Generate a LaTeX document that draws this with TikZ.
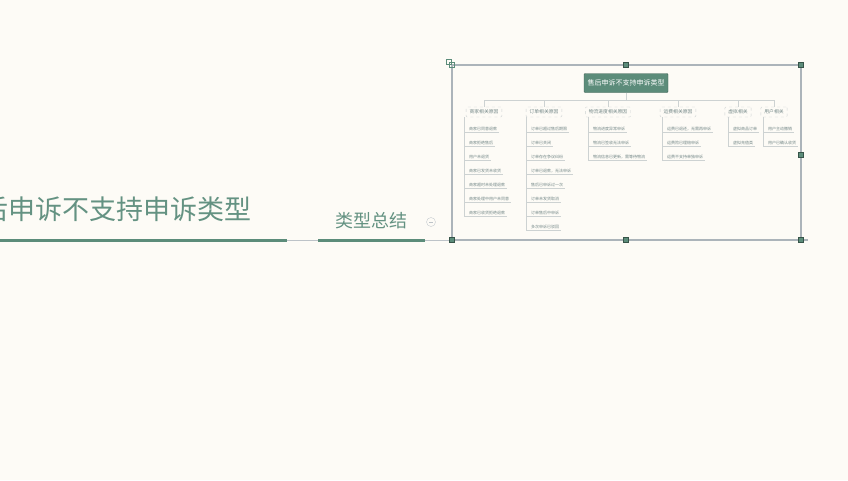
\documentclass[tikz,border=0pt]{standalone}
\usepackage{fontspec}
\setmainfont{Noto Sans CJK SC}
\newfontfamily\cjk{Noto Sans CJK SC}
\definecolor{bg}{RGB}{253,251,246}
\definecolor{tgreen}{RGB}{92,140,122}
\definecolor{ttitle}{RGB}{100,146,130}
\definecolor{fgray}{RGB}{172,180,186}
\definecolor{lgray}{RGB}{205,210,210}
\definecolor{ctext}{RGB}{115,135,135}
\tikzset{
  rootbox/.style={fill=tgreen,draw=tgreen!70!black,text=white,font=\cjk\fontsize{7}{8}\selectfont,minimum width=84pt,minimum height=19pt,inner sep=0pt,rounded corners=1pt},
  branchbox/.style={draw=lgray,dashed,text=ctext,font=\cjk\fontsize{4.8}{5}\selectfont,minimum height=10pt,inner xsep=3.5pt,inner ysep=2pt,rounded corners=1pt},
  childtxt/.style={anchor=south west,text=ctext,font=\cjk\fontsize{4}{4.5}\selectfont,inner sep=0.8pt},
  conn/.style={draw=lgray,line width=0.7pt},
  handle/.style={fill=tgreen,draw=tgreen!60!black,minimum size=5pt,inner sep=0pt},
}
\begin{document}
\begin{tikzpicture}[x=1pt,y=-1pt]
\useasboundingbox (0,0) rectangle (848,480);
\fill[bg] (0,0) rectangle (848,480);
% left title
\node[anchor=base east,text=ttitle,font=\cjk\fontsize{27}{30}\selectfont,inner sep=0pt] (title) at (252,219) {售后申诉不支持申诉类型};
\node[anchor=base,text=ttitle,font=\cjk\fontsize{18}{20}\selectfont,inner sep=0pt] (sum) at (371,227) {类型总结};
\coordinate (g0) at (0,240);
\coordinate (g1) at (287,240);
\coordinate (g2) at (318,240);
\coordinate (g3) at (425,240);
\coordinate (g4) at (452,240);
\draw[tgreen,line width=3pt] (g0) -- (g1);
\draw[fgray!80,line width=1pt] (g1) -- (g2);
\draw[tgreen,line width=3pt] (g2) -- (g3);
\draw[fgray!80,line width=1pt] (g3) -- (g4);
\node[draw=fgray!70,circle,minimum size=9pt,inner sep=0pt] (col) at (431,222) {};
\draw[fgray!80,line width=0.6pt] ([xshift=-2pt]col.center) -- ([xshift=2pt]col.center);
% frame
\coordinate (f1) at (452,65);
\coordinate (f2) at (801,240);
\draw[fgray,line width=1.4pt] (f1) rectangle (f2);
\draw[fgray,line width=1.4pt] (801,240) -- (808,240);
\node[handle] (h1) at (626,65) {};
\node[handle] (h2) at (801,65) {};
\node[handle] (h3) at (801,155) {};
\node[handle] (h4) at (626,240) {};
\node[handle] (h5) at (452,240) {};
\node[handle] (h6) at (801,240) {};
\node[handle,fill=none,draw=tgreen] (h7) at (449,62) {};
\node[handle,fill=none,draw=tgreen] (h8) at (452,65) {};
% root
\node[rootbox] (root) at (626,83) {售后申诉不支持申诉类型};
% branches
\node[branchbox] (b1) at (484,112) {商家相关原因};
\node[branchbox] (b2) at (544,112) {订单相关原因};
\node[branchbox] (b3) at (608,112) {物流进度相关原因};
\node[branchbox] (b4) at (678,112) {运费相关原因};
\node[branchbox] (b5) at (738,112) {虚拟相关};
\node[branchbox] (b6) at (774,112) {用户相关};
\coordinate (bus) at (626,100);
\draw[conn] (root.south) -- (bus);
\draw[conn] (b1.north |- bus) -- (b6.north |- bus);
\foreach \b in {b1,b2,b3,b4,b5,b6}{\draw[conn] (\b.north |- bus) -- (\b.north);}
% children
\newcommand\kids[3]{%
  \foreach \t [count=\i] in {#3}{%
    \node[childtxt] (#1c\i) at (#2,{118+14*\i}) {\t};
    \draw[conn] (#2-4,{118+14*\i}) -- ([xshift=1pt]#1c\i.south east);
    \xdef\lastkid{\i}%
  }%
  \draw[conn] (#2-4,117) -- (#2-4,{118+14*\lastkid});
}
\kids{b1}{468}{商家已同意退款,商家拒绝售后,用户未退货,商家已发货未收货,商家超时未处理退款,商家处理中用户未同意,商家已收货拒绝退款}
\kids{b2}{530}{订单已超过售后期限,订单已关闭,订单存在争议纠纷,订单已退款，无法申诉,售后已申诉过一次,订单未发货取消,订单售后中申诉,多次申诉已驳回}
\kids{b3}{592}{物流进度异常申诉,物流已签收无法申诉,物流信息已更新，需等待物流}
\kids{b4}{666}{运费已退还，无需再申诉,运费险已理赔申诉,运费不支持单独申诉}
\kids{b5}{732}{虚拟商品订单,虚拟充值类}
\kids{b6}{767}{用户主动撤销,用户已确认收货}
\end{tikzpicture}
\end{document}
